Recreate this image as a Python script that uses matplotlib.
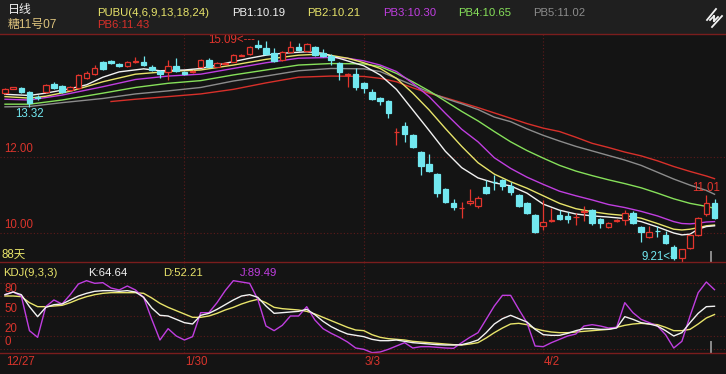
import matplotlib
matplotlib.use("Agg")
import matplotlib.pyplot as plt
from matplotlib.patches import Rectangle
from matplotlib.lines import Line2D

plt.rcParams['font.family'] = ['Liberation Sans', 'Noto Sans CJK SC', 'DejaVu Sans']

# -----------------------------
# daily candles (88 days)
# -----------------------------
opens = [13.68, 13.80, 13.81, 13.71, 13.57, 13.71, 13.92, 13.87, 13.76, 13.82,
         14.08, 14.18, 14.51, 14.53, 14.44, 14.40, 14.50, 14.51, 14.38, 14.26,
         14.23, 14.40, 14.25, 14.24, 14.38, 14.55, 14.38, 14.46, 14.51, 14.67,
         14.70, 14.95, 14.88, 14.73, 14.55, 14.77, 14.90, 14.79, 14.90, 14.73,
         14.67, 14.48, 14.17, 14.18, 13.94, 13.71, 13.55, 13.47, 12.65, 12.82,
         12.58, 12.13, 11.82, 11.55, 11.16, 10.79, 10.65, 10.78, 10.71, 11.20,
         11.35, 11.40, 11.25, 11.00, 10.79, 10.47, 10.19, 10.31, 10.47, 10.44,
         10.41, 10.55, 10.60, 10.37, 10.16, 10.31, 10.34, 10.53, 10.16, 9.89,
         10.06, 9.95, 9.63, 9.33, 9.60, 9.96, 10.49, 10.79]
highs = [13.82, 13.84, 13.84, 13.74, 13.62, 13.92, 13.97, 13.89, 13.87, 14.18,
         14.26, 14.42, 14.53, 14.55, 14.47, 14.53, 14.63, 14.66, 14.42, 14.28,
         14.55, 14.61, 14.27, 14.30, 14.58, 14.61, 14.49, 14.50, 14.70, 14.72,
         14.92, 15.09, 15.06, 14.87, 14.79, 15.05, 15.00, 15.00, 14.93, 14.84,
         14.70, 14.50, 14.22, 14.34, 13.97, 13.79, 13.58, 13.49, 12.76, 12.92,
         12.60, 12.15, 12.08, 11.57, 11.18, 10.89, 10.82, 11.16, 10.98, 11.39,
         11.53, 11.42, 11.34, 11.02, 10.82, 10.50, 10.87, 10.66, 10.60, 10.55,
         10.53, 10.70, 10.63, 10.39, 10.29, 10.37, 10.61, 10.58, 10.18, 10.18,
         10.18, 10.05, 9.68, 9.59, 9.97, 10.42, 11.01, 10.90]
lows = [13.66, 13.78, 13.69, 13.32, 13.50, 13.69, 13.79, 13.68, 13.74, 13.80,
        14.05, 14.16, 14.29, 14.45, 14.37, 14.38, 14.48, 14.40, 14.27, 14.08,
        14.03, 14.24, 14.16, 14.20, 14.36, 14.36, 14.36, 14.44, 14.49, 14.65,
        14.68, 14.85, 14.68, 14.50, 14.53, 14.75, 14.80, 14.77, 14.66, 14.64,
        14.42, 14.03, 13.84, 13.76, 13.68, 13.50, 13.37, 13.03, 12.32, 12.39,
        12.24, 11.53, 11.60, 10.95, 10.80, 10.61, 10.40, 10.74, 10.66, 11.03,
        11.13, 11.13, 11.00, 10.68, 10.50, 10.01, 10.08, 10.28, 10.34, 10.26,
        10.21, 10.32, 10.22, 10.13, 10.13, 10.29, 10.21, 10.24, 9.76, 9.87,
        9.89, 9.72, 9.29, 9.21, 9.58, 9.93, 10.45, 10.36]
closes = [13.79, 13.83, 13.71, 13.42, 13.55, 13.89, 13.82, 13.71, 13.84, 14.16,
          14.21, 14.34, 14.31, 14.47, 14.40, 14.51, 14.52, 14.42, 14.29, 14.18,
          14.40, 14.26, 14.18, 14.26, 14.55, 14.38, 14.47, 14.48, 14.68, 14.69,
          14.90, 14.90, 14.70, 14.53, 14.77, 14.90, 14.82, 14.97, 14.68, 14.67,
          14.55, 14.25, 14.19, 13.85, 13.81, 13.53, 13.47, 13.16, 12.67, 12.61,
          12.26, 11.76, 11.63, 11.05, 10.82, 10.68, 10.67, 10.84, 10.93, 11.05,
          11.33, 11.25, 11.07, 10.72, 10.53, 10.03, 10.29, 10.34, 10.36, 10.36,
          10.43, 10.57, 10.26, 10.26, 10.26, 10.33, 10.53, 10.26, 10.03, 10.03,
          10.04, 9.74, 9.34, 9.57, 9.95, 10.39, 10.80, 10.40]

# -----------------------------
# PUBU lines (read at sampled days)
# -----------------------------
pb1_x = [0, 3, 5, 8, 10, 12, 14, 17, 19, 22, 24, 26, 28, 30, 32, 34, 37, 39, 40, 42, 44,
         46, 48, 50, 52, 54, 56, 58, 60, 62, 64, 66, 68, 70, 72, 74, 76, 78, 80, 82, 83,
         84, 85, 86, 87]
pb1_y = [13.65, 13.62, 13.68, 13.80, 13.90, 14.10, 14.24, 14.32, 14.27, 14.29, 14.33,
         14.42, 14.51, 14.60, 14.68, 14.73, 14.77, 14.73, 14.66, 14.53, 14.40, 14.16,
         13.78, 13.24, 12.70, 12.15, 11.72, 11.45, 11.32, 11.24, 11.05, 10.76, 10.60,
         10.50, 10.45, 10.42, 10.38, 10.30, 10.16, 10.00, 9.95, 9.97, 10.10, 10.17, 10.19]

pb2_x = [0, 3, 5, 8, 12, 16, 20, 24, 28, 32, 36, 39, 42, 44, 46, 48, 50, 52, 54, 56, 58,
         60, 62, 64, 66, 68, 70, 72, 74, 76, 78, 80, 82, 83, 84, 85, 86, 87]
pb2_y = [13.59, 13.55, 13.60, 13.73, 13.98, 14.18, 14.25, 14.29, 14.42, 14.57, 14.68,
         14.71, 14.60, 14.48, 14.33, 14.07, 13.68, 13.24, 12.75, 12.28, 11.85, 11.55,
         11.35, 11.18, 10.98, 10.78, 10.64, 10.56, 10.50, 10.46, 10.39, 10.25, 10.10,
         10.08, 10.10, 10.14, 10.19, 10.21]

pb3_x = [0, 3, 7, 12, 16, 20, 24, 28, 32, 36, 40, 42, 44, 46, 48, 50, 52, 54, 56, 58,
         60, 62, 64, 66, 68, 70, 72, 74, 76, 78, 80, 82, 83, 84, 85, 86, 87]
pb3_y = [13.52, 13.50, 13.63, 13.85, 14.04, 14.13, 14.18, 14.33, 14.48, 14.60, 14.62,
         14.60, 14.53, 14.42, 14.25, 13.94, 13.59, 13.15, 12.73, 12.40, 11.98, 11.70,
         11.47, 11.28, 11.10, 10.98, 10.87, 10.75, 10.67, 10.57, 10.45, 10.30, 10.25,
         10.24, 10.26, 10.29, 10.30]

pb4_x = [0, 3, 7, 12, 16, 20, 24, 28, 32, 36, 40, 44, 46, 48, 50, 52, 54, 56, 58, 60,
         62, 64, 66, 68, 70, 72, 74, 76, 78, 80, 82, 84, 86, 87]
pb4_y = [13.39, 13.39, 13.50, 13.68, 13.83, 13.94, 14.01, 14.16, 14.29, 14.42, 14.46,
         14.45, 14.38, 14.20, 13.98, 13.74, 13.47, 13.20, 12.95, 12.67, 12.40, 12.17,
         11.97, 11.78, 11.63, 11.51, 11.40, 11.30, 11.19, 11.05, 10.90, 10.78, 10.70, 10.65]

pb5_x = [0, 3, 7, 12, 16, 20, 24, 28, 32, 36, 40, 44, 46, 48, 50, 52, 54, 56, 58, 60,
         62, 64, 66, 68, 70, 72, 74, 76, 78, 80, 82, 84, 86, 87]
pb5_y = [13.32, 13.33, 13.43, 13.54, 13.66, 13.74, 13.83, 14.00, 14.13, 14.27, 14.33,
         14.32, 14.25, 14.07, 13.89, 13.71, 13.54, 13.40, 13.25, 13.05, 12.93, 12.74,
         12.57, 12.42, 12.28, 12.16, 12.04, 11.92, 11.78, 11.60, 11.42, 11.26, 11.12, 11.02]

pb6_x = [13, 16, 20, 24, 28, 32, 36, 40, 44, 46, 48, 50, 52, 54, 56, 58, 60, 62, 64, 66,
         68, 70, 72, 74, 76, 78, 80, 82, 84, 86, 87]
pb6_y = [13.46, 13.52, 13.59, 13.66, 13.78, 13.95, 14.10, 14.13, 14.12, 14.07, 13.98,
         13.82, 13.68, 13.56, 13.43, 13.30, 13.16, 13.02, 12.88, 12.76, 12.67, 12.52,
         12.36, 12.25, 12.13, 12.03, 11.90, 11.75, 11.62, 11.50, 11.43]

# -----------------------------
# KDJ(9,3,3)
# -----------------------------
k_vals = [82, 86, 82, 64, 49, 63, 67, 68, 74, 80, 84, 87, 88, 88, 87, 88, 86, 78, 62, 51,
          50, 45, 40, 38, 51, 54, 60, 67, 74, 80, 82, 78, 65, 54, 55, 56, 57, 60, 52, 42,
          34, 28, 23, 21, 19, 15, 13, 13, 14, 12, 10, 9, 8, 7, 6.5, 6.5, 7, 10, 14, 25,
          38, 46, 51, 46, 41, 30, 22, 21, 21, 24, 28, 31, 31, 30, 30, 32, 49, 45, 40, 38,
          35, 28, 20, 25, 40, 54, 64, 64.64]
d_vals = [80, 80, 79, 70, 64, 64, 65, 66, 70, 75, 79, 82, 84, 85, 85, 85, 85, 84, 77, 69,
          63, 58, 53, 48, 48, 50, 54, 59, 63, 68, 72, 75, 70, 63, 61, 60, 59, 57, 53, 48,
          43, 38, 33, 29, 28, 22, 18, 16, 15, 14, 12, 11, 10, 9, 8, 7, 6.5, 8, 10, 17,
          25, 32, 38, 39, 37, 31, 28, 26, 25, 25, 26, 27, 28, 29, 30, 33, 36, 38, 39, 38,
          37, 33, 28, 28, 30, 38, 47, 52.21]
j_vals = [82, 86, 80, 28, 18, 64, 74, 68, 82, 98, 103, 99, 100, 92, 89, 95, 89, 78, 45, 14,
          31, 20, 14, 19, 55, 55, 70, 88, 103, 101, 99, 75, 35, 28, 36, 50, 50, 64, 44, 31,
          24, 18, 11, 2, 0, -5, -4, 0, 5, 10, 2, 4, 4, 3, 2, 1.5, 10, 18, 25, 45,
          65, 81, 81, 60, 40, 5, 4, 10, 15, 20, 23, 35, 37, 35, 32, 33, 70, 55, 45, 40,
          35, 22, 2, 12, 50, 85, 101, 89.49]

date_labels = ["12/27", "1/30", "3/3", "4/2"]
date_pos = [0, 22, 44, 66]
price_ticks = [12.00, 10.00]
kdj_ticks = [80, 50, 20, 0]
kdj_grid = [100, 80, 50, 20, 0]

# colours
BG = "#141414"
HEAD = "#1f1f1f"
RED = "#e3352d"
CYAN = "#72e8f0"
WHITE = "#f2f2f2"
YELLOW = "#e8e46a"
PURPLE = "#c03ee0"
GREEN = "#86e05a"
GRAY = "#8c8c8c"
LRED = "#d8302a"
GRID = "#5e1a1a"
SEP = "#7a1d1d"
LABEL = "#d9342c"

W, H = 726, 374
fig = plt.figure(figsize=(W / 100, H / 100), dpi=100)
fig.patch.set_facecolor(BG)


def fx(x):
    return x / W


def fy(y):
    return 1 - y / H


fig.patches.append(Rectangle((0, fy(34)), 1, 34 / H, transform=fig.transFigure,
                             facecolor=HEAD, edgecolor="none", zorder=0))

ax = fig.add_axes([0, fy(262), 1, (262 - 34) / H])
kax = fig.add_axes([0, fy(353), 1, (353 - 262) / H])
for a in (ax, kax):
    a.set_facecolor(BG)
    a.set_xlim(-0.613, 88.41)
    for s in a.spines.values():
        s.set_visible(False)
    a.set_xticks([])
    a.set_yticks([])
    for p in date_pos[1:]:
        a.axvline(p, color=GRID, lw=0.8, ls=(0, (1, 2)), zorder=1)

ax.set_ylim(9.237, 15.237)
kax.set_ylim(-5.5, 131)

for t in price_ticks:
    ax.axhline(t, color=GRID, lw=0.8, ls=(0, (1, 2)), zorder=1)
    ax.text(-0.05, t + 0.06, f"{t:.2f}", color=LABEL, fontsize=8.3,
            ha="left", va="bottom")
for t in kdj_grid:
    kax.axhline(t, color=GRID, lw=0.8, ls=(0, (1, 2)), zorder=1)
for t in kdj_ticks:
    kax.text(-0.1, t + 1.5, str(t), color=LABEL, fontsize=8.3, ha="left", va="bottom")

# -----------------------------
# moving average lines
# -----------------------------
ax.plot(pb6_x, pb6_y, color=LRED, lw=1.0, zorder=2)
ax.plot(pb5_x, pb5_y, color=GRAY, lw=1.0, zorder=2)
ax.plot(pb4_x, pb4_y, color=GREEN, lw=1.0, zorder=2)
ax.plot(pb3_x, pb3_y, color=PURPLE, lw=1.0, zorder=2)
ax.plot(pb2_x, pb2_y, color=YELLOW, lw=1.0, zorder=2)
ax.plot(pb1_x, pb1_y, color=WHITE, lw=1.0, zorder=2)

# -----------------------------
# candles
# -----------------------------
w = 0.68
for i in range(len(opens)):
    o, h, l, c = opens[i], highs[i], lows[i], closes[i]
    top, bot = max(o, c), min(o, c)
    if c >= o:
        col = RED
        face = BG
    else:
        col = CYAN
        face = CYAN
    ax.vlines(i, top, h, color=col, lw=0.9, zorder=3)
    ax.vlines(i, l, bot, color=col, lw=0.9, zorder=3)
    ax.add_patch(Rectangle((i - w / 2, bot), w, max(top - bot, 0.004),
                           facecolor=face, edgecolor=col, lw=0.9, zorder=4))

# high / low markers
hi = highs.index(max(highs))
lo = lows.index(min(lows))
ax.text(hi - 0.35, highs[hi], f"{highs[hi]:.2f}<---", color=RED, fontsize=8.3,
        ha="right", va="center", zorder=5)
ax.text(lo - 0.45, lows[lo], f"{lows[lo]:.2f}<--", color=CYAN, fontsize=8.3,
        ha="right", va="bottom", zorder=5)
first_lo = lows.index(min(lows[:20]))
ax.text(first_lo, lows[first_lo] - 0.02, f"{lows[first_lo]:.2f}", color=CYAN,
        fontsize=8.3, ha="center", va="top", zorder=5)
last_hi = len(highs) - 2
ax.text(last_hi, highs[last_hi] + 0.02, f"{highs[last_hi]:.2f}", color=RED,
        fontsize=8.3, ha="center", va="bottom", zorder=5)

ax.text(-0.45, 9.27, "88天", color=YELLOW, fontsize=8.3, ha="left", va="bottom",
        family=["Liberation Sans", "Noto Sans CJK SC"])
ax.axvline(86.6, ymin=0.0, ymax=0.045, color=GRAY, lw=1.4, zorder=5)

# -----------------------------
# KDJ lines
# -----------------------------
days = list(range(len(k_vals)))
kax.plot(days, d_vals, color=YELLOW, lw=1.0, zorder=2)
kax.plot(days, j_vals, color=PURPLE, lw=1.0, zorder=3)
kax.plot(days, k_vals, color=WHITE, lw=1.0, zorder=4)
kax.axvline(86.6, ymin=0.0, ymax=0.12, color=GRAY, lw=1.4, zorder=5)

# -----------------------------
# separators and header texts
# -----------------------------
for yy in (34, 262, 353):
    fig.add_artist(Line2D([0, 1], [fy(yy), fy(yy)], color=SEP, lw=1.0))

fs = 8.2
fig.text(fx(8), fy(10), "日线", color=WHITE, fontsize=8.6, va="center", ha="left")
fig.text(fx(8), fy(25), "糖11号07", color="#dcc27c", fontsize=8.6, va="center", ha="left")
fig.text(fx(97), fy(12.5), "PUBU(4,6,9,13,18,24)", color=YELLOW, fontsize=fs, va="center")
fig.text(fx(97), fy(25), f"PB6:{pb6_y[-1]:.2f}", color=LRED, fontsize=fs, va="center")
pb_labels = [("PB1", pb1_y[-1], WHITE, 232), ("PB2", pb2_y[-1], YELLOW, 307),
             ("PB3", pb3_y[-1], PURPLE, 383), ("PB4", pb4_y[-1], GREEN, 458),
             ("PB5", pb5_y[-1], GRAY, 533)]
for name, val, col, x in pb_labels:
    fig.text(fx(x), fy(12.5), f"{name}:{val:.2f}", color=col, fontsize=fs, va="center")

# small icon at top-right
for seg in [((707, 20), (716, 9)), ((712, 27), (722, 16)),
            ((710, 20), (714, 16)), ((714, 16), (714, 21)), ((714, 21), (718, 17))]:
    fig.add_artist(Line2D([fx(seg[0][0]), fx(seg[1][0])], [fy(seg[0][1]), fy(seg[1][1])],
                          color=WHITE, lw=1.3))

fig.text(fx(3), fy(273), "KDJ(9,3,3)", color=YELLOW, fontsize=fs, va="center")
fig.text(fx(88), fy(273), f"K:{k_vals[-1]:.2f}", color=WHITE, fontsize=fs, va="center")
fig.text(fx(163), fy(273), f"D:{d_vals[-1]:.2f}", color=YELLOW, fontsize=fs, va="center")
fig.text(fx(240), fy(273), f"J:{j_vals[-1]:.2f}", color=PURPLE, fontsize=fs, va="center")

for lab, p in zip(date_labels, date_pos):
    x = 5 + 8.155 * p
    fig.text(fx(x + 1), fy(362), lab, color=LABEL, fontsize=8.3, va="center", ha="left")

fig.savefig("out.png", dpi=100, facecolor=BG)
